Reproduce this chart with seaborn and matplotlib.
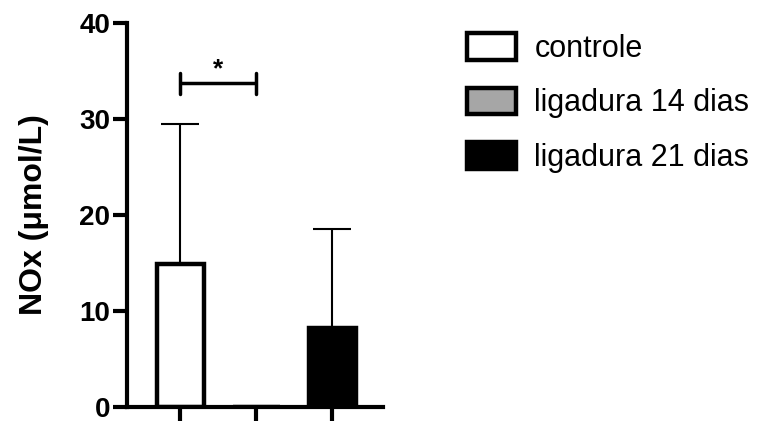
import matplotlib
matplotlib.use("Agg")
import matplotlib.pyplot as plt
import seaborn as sns
import pandas as pd
from matplotlib.patches import Patch

categories = ["controle", "ligadura 14 dias", "ligadura 21 dias"]
means = [14.9, 0.0, 8.2]
sd_upper = [14.6, 0.0, 10.3]
colors = ["#ffffff", "#a6a6a6", "#000000"]
yticks = [0, 10, 20, 30, 40]
ylabel = "NOx (\u03bcmol/L)"
sig_pair = (0, 1)
sig_y = 33.7
sig_text = "*"

sns.set_theme(style="white")
plt.rcParams["font.family"] = ["Liberation Sans", "DejaVu Sans"]
plt.rcParams.update({"text.color": "black", "axes.labelcolor": "black",
                     "xtick.color": "black", "ytick.color": "black"})

df = pd.DataFrame({"grupo": categories, "NOx": means})

fig = plt.figure(figsize=(7.58, 4.23), dpi=100)
ax = fig.add_axes([127/758, 1-407/423, (383-127)/758, (407-23)/423])

sns.barplot(data=df, x="grupo", y="NOx", hue="grupo", palette=colors,
            order=categories, hue_order=categories, width=0.62,
            edgecolor="black", linewidth=3.2, legend=False, ax=ax, errorbar=None)

xpos = list(range(len(categories)))
ax.errorbar(xpos, means, yerr=[[0]*len(means), sd_upper], fmt="none",
            ecolor="black", elinewidth=1.5, capsize=14, capthick=1.5, zorder=1)

# significance bracket
x1, x2 = sig_pair
ax.plot([x1, x2], [sig_y, sig_y], color="black", lw=2.5, solid_capstyle="butt", clip_on=False)
ax.plot([x1, x1], [sig_y-1.1, sig_y+1.1], color="black", lw=2.5, clip_on=False)
ax.plot([x2, x2], [sig_y-1.1, sig_y+1.1], color="black", lw=2.5, clip_on=False)
ax.text((x1+x2)/2, sig_y+0.2, sig_text, ha="center", va="bottom", fontsize=19, fontweight="bold")

ax.set_xlim(-0.70, 2.67)
ax.set_ylim(0, 40)
ax.set_yticks(yticks)
ax.set_yticklabels([str(t) for t in yticks], fontsize=20, fontweight="bold")
ax.set_xticks(xpos)
ax.set_xticklabels([])
ax.set_xlabel("")
ax.set_ylabel(ylabel, fontsize=23, fontweight="bold", labelpad=22)
for s in ["top", "right"]:
    ax.spines[s].set_visible(False)
for s in ["left", "bottom"]:
    ax.spines[s].set_linewidth(3)
    ax.spines[s].set_color("black")
ax.tick_params(axis="both", direction="out", length=10, width=3, color="black",
               left=True, bottom=True, pad=2)
ax.set_facecolor("white")

handles = [Patch(facecolor=c, edgecolor="black", linewidth=3.2) for c in colors]
fig.legend(handles, categories, loc="upper left", bbox_to_anchor=(455/758, 1-21/423),
           frameon=False, fontsize=22, handlelength=1.6, handleheight=0.95,
           labelspacing=0.78, handletextpad=0.6, borderaxespad=0)

fig.savefig("out.png", dpi=100, facecolor="white")
